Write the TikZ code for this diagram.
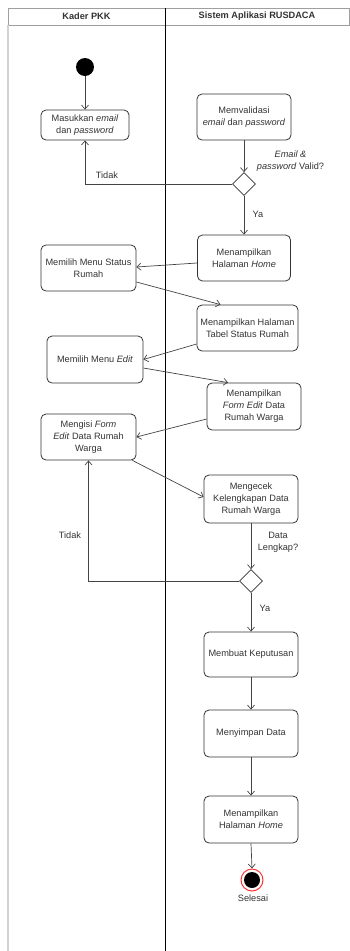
\documentclass[tikz,border=0pt]{standalone}
\usepackage{fontspec}
\setmainfont{Liberation Sans}
\usetikzlibrary{arrows.meta,shapes.geometric}
\definecolor{ink}{HTML}{333333}
\definecolor{edge}{HTML}{444444}
\begin{document}
\begin{tikzpicture}[x=1pt,y=-1pt,
  every node/.style={font=\fontsize{9.2}{12}\selectfont,text=ink},
  act/.style={draw=ink,line width=0.8pt,rounded corners=5pt,align=center,inner sep=0pt},
  decision/.style={draw=ink,line width=0.8pt,diamond,aspect=1,minimum width=23pt,minimum height=23pt,inner sep=0pt},
  flow/.style={draw=edge,line width=0.7pt,-{Straight Barb[length=4pt,width=7pt]}},
  lbl/.style={align=center,inner sep=0pt},
  lane/.style={line width=0.8pt}]
\useasboundingbox (0,0) rectangle (350,951);

% swimlane frame
\draw[gray!75,lane] (8,8) rectangle (349,25);
\draw[gray!35,line width=1.6pt] (8,25) -- (8,951);
\draw[black,lane] (165,8) -- (165,951);
\node[font=\fontsize{9.2}{12}\selectfont\bfseries] (laneA) at (86.5,16.5) {Kader PKK};
\node[font=\fontsize{9.2}{12}\selectfont\bfseries] (laneB) at (257,16.5) {Sistem Aplikasi RUSDACA};

% start and end
\node[circle,fill=black,minimum size=18pt,inner sep=0pt] (start) at (85,67) {};
\node[circle,draw=red!80,fill=white,line width=1pt,minimum size=22pt,inner sep=0pt] (end) at (252,880) {};
\node[circle,fill=black,minimum size=16pt,inner sep=0pt] (endcore) at (252,880) {};
\node (endlbl) at (253,898) {Selesai};

% activities
\node[act,minimum width=88pt,minimum height=30pt] (masuk) at (85,125) {Masukkan \emph{email}\\dan \emph{password}};
\node[act,minimum width=94pt,minimum height=46pt] (valid) at (244,117) {Memvalidasi\\\emph{email} dan \emph{password}};
\node[decision] (d1) at (244,184) {};
\node[act,minimum width=93pt,minimum height=46pt] (home1) at (244,258) {Menampilkan\\Halaman \emph{Home}};
\node[act,minimum width=95pt,minimum height=46pt] (status) at (88.5,268) {Memilih Menu Status\\Rumah};
\node[act,minimum width=101pt,minimum height=46pt] (tabel) at (247.5,328) {Menampilkan Halaman\\Tabel Status Rumah};
\node[act,minimum width=96pt,minimum height=47pt] (edit) at (95,359.5) {Memilih Menu \emph{Edit}};
\node[act,minimum width=94pt,minimum height=47pt] (form) at (254,406.5) {Menampilkan\\\emph{Form Edit} Data\\Rumah Warga};
\node[act,minimum width=95pt,minimum height=46pt] (isi) at (88.5,437) {Mengisi \emph{Form}\\\emph{Edit} Data Rumah\\Warga};
\node[act,minimum width=94pt,minimum height=48pt] (cek) at (251,499) {Mengecek\\Kelengkapan Data\\Rumah Warga};
\node[decision] (d2) at (251,581) {};
\node[act,minimum width=94pt,minimum height=45pt] (putus) at (251,654.5) {Membuat Keputusan};
\node[act,minimum width=94pt,minimum height=47pt] (simpan) at (251,733.5) {Menyimpan Data};
\node[act,minimum width=94pt,minimum height=47pt] (home2) at (251,819.5) {Menampilkan\\Halaman \emph{Home}};

% guard labels
\node[lbl] (g1) at (290.5,161.5) {\emph{Email \&}\\\emph{password} Valid?};
\node[lbl] (t1) at (107,175) {Tidak};
\node[lbl] (y1) at (258,214) {Ya};
\node[lbl] (g2) at (278,542) {Data\\Lengkap?};
\node[lbl] (t2) at (70,535) {Tidak};
\node[lbl] (y2) at (265,608) {Ya};

% connectors
\draw[flow] (start) -- (masuk.north);
\draw[flow] (valid.south) -- (d1.north);
\draw[flow] (d1.west) -| (masuk.south);
\draw[flow] (d1.south) -- (home1.north);
\draw[flow] ([yshift=-5pt]home1.west) -- ([yshift=1pt]status.east);
\draw[flow] ([yshift=-14pt]status.east) -- ([xshift=-27pt]tabel.north);
\draw[flow] ([yshift=-16pt]tabel.west) -- (edit.east);
\draw[flow] ([yshift=-8.5pt]edit.east) -- ([xshift=-26pt]form.north);
\draw[flow] ([yshift=-12.5pt]form.west) -- (isi.east);
\draw[flow] ([xshift=-4pt]isi.south east) -- ([yshift=2pt]cek.west);
\draw[flow] (cek.south) -- (d2.north);
\draw[flow] (d2.west) -| (isi.south);
\draw[flow] (d2.south) -- (putus.north);
\draw[flow] (putus.south) -- (simpan.north);
\draw[flow] (simpan.south) -- (home2.north);
\draw[flow] (home2.south) -- (end.north);
\end{tikzpicture}
\end{document}
